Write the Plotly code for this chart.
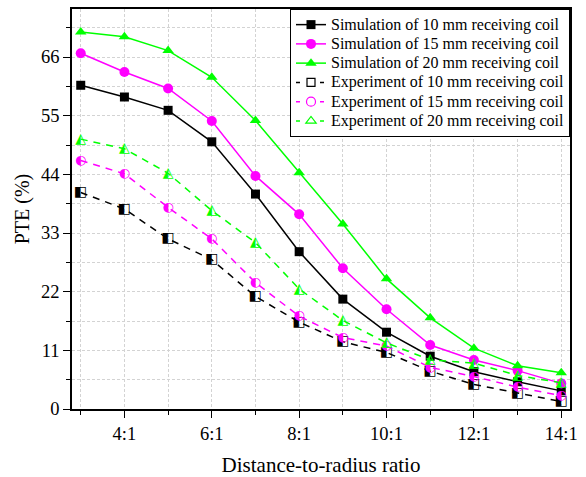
import plotly.graph_objects as go

ratios = [3, 4, 5, 6, 7, 8, 9, 10, 11, 12, 13, 14]
tick_vals = [4, 6, 8, 10, 12, 14]
tick_labels = ["4:1", "6:1", "8:1", "10:1", "12:1", "14:1"]

sim_10 = [60.7, 58.5, 56.0, 50.1, 40.3, 29.5, 20.6, 14.4, 9.9, 7.0, 5.1, 3.4]
sim_15 = [66.7, 63.2, 60.1, 54.0, 43.7, 36.5, 26.4, 18.7, 12.0, 9.2, 7.2, 4.8]
sim_20 = [70.7, 69.8, 67.2, 62.2, 54.1, 44.3, 34.7, 24.4, 17.1, 11.4, 8.1, 6.8]
exp_10 = [40.6, 37.5, 31.9, 28.0, 21.1, 16.3, 12.6, 10.6, 7.1, 4.6, 3.0, 1.4]
exp_15 = [46.6, 44.1, 37.8, 31.9, 23.7, 17.4, 13.4, 11.8, 7.8, 6.1, 4.1, 2.5]
exp_20 = [50.6, 48.8, 44.2, 37.2, 31.2, 22.5, 16.6, 12.4, 9.2, 8.6, 6.3, 4.9]

BLACK, MAG, GRN = "#000000", "#FF00FF", "#00FF00"
FONT = "Liberation Serif"


def lg(name):
    return "<span style='font-size:16px'>" + name + "</span>"


fig = go.Figure()

sims = [("Simulation of 10 mm receiving coil", sim_10, BLACK, "square", 9),
        ("Simulation of 15 mm receiving coil", sim_15, MAG, "circle", 10),
        ("Simulation of 20 mm receiving coil", sim_20, GRN, "triangle-up", 10)]
for name, ys, c, sym, sz in sims:
    fig.add_trace(go.Scatter(x=ratios, y=ys, name=lg(name), mode="lines+markers",
                             line=dict(color=c, width=1.5),
                             marker=dict(symbol=sym, size=sz, color=c)))

exps = [("Experiment of 10 mm receiving coil", exp_10, BLACK, "square", 8, "\u25E7", 14),
        ("Experiment of 15 mm receiving coil", exp_15, MAG, "circle", 9, "\u25D0", 13),
        ("Experiment of 20 mm receiving coil", exp_20, GRN, "triangle-up", 9, "\u25ED", 14)]
for name, ys, c, sym, sz, glyph, fs in exps:
    fig.add_trace(go.Scatter(x=ratios, y=ys, mode="lines", showlegend=False,
                             line=dict(color=c, width=1.5, dash="7px,6px")))
    fig.add_trace(go.Scatter(x=ratios, y=ys, mode="text", showlegend=False,
                             text=[glyph] * len(ys), textposition="middle center",
                             textfont=dict(family="DejaVu Sans", size=fs, color=c)))
    fig.add_trace(go.Scatter(x=[None], y=[None], name=lg(name), mode="lines+markers",
                             line=dict(color=c, width=1.5, dash="4px,8px"),
                             marker=dict(symbol=sym, size=sz, color="white",
                                         line=dict(color=c, width=1.2))))

gridstyle = dict(gridcolor="#d3d3d3", gridwidth=1, griddash="3px,2px")

fig.update_xaxes(range=[2.8, 14.2], tickmode="array", tickvals=tick_vals, ticktext=tick_labels,
                 ticks="outside", ticklen=7, tickwidth=1.2, tickcolor="black",
                 showline=True, linecolor="black", linewidth=1.5, mirror=True,
                 zeroline=False, showgrid=True, **gridstyle, automargin=False,
                 minor=dict(tickmode="array", tickvals=[3, 5, 7, 9, 11, 13], ticks="outside",
                            ticklen=4, tickcolor="black", showgrid=True, **gridstyle),
                 title=dict(text="Distance-to-radius ratio",
                            font=dict(family=FONT, size=21, color="black"), standoff=16),
                 tickfont=dict(family=FONT, size=18.5, color="black"))
fig.update_yaxes(range=[0, 75], tickmode="linear", tick0=0, dtick=11,
                 ticks="outside", ticklen=7, tickwidth=1.2, tickcolor="black",
                 showline=True, linecolor="black", linewidth=1.5, mirror=True,
                 zeroline=False, showgrid=True, **gridstyle, automargin=False,
                 minor=dict(dtick=5.5, ticks="outside", ticklen=4, tickcolor="black",
                            showgrid=True, **gridstyle),
                 title=dict(text="PTE (%)", font=dict(family=FONT, size=20, color="black"),
                            standoff=6),
                 tickfont=dict(family=FONT, size=18.5, color="black"))

fig.update_layout(width=586, height=477, margin=dict(l=72, r=16, t=9, b=68),
                  plot_bgcolor="white", paper_bgcolor="white",
                  legend=dict(x=1, y=1, xanchor="right", yanchor="top",
                              bgcolor="white", bordercolor="black", borderwidth=1,
                              font=dict(family=FONT, size=12.5, color="black"),
                              tracegroupgap=0, itemwidth=30))

fig.write_html("out.html", post_script="document.body.style.margin='0';",
               config={"displayModeBar": False})
